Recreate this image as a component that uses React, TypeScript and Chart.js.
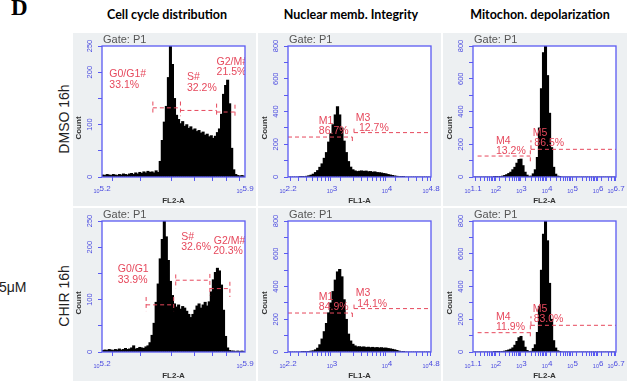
import React, { useEffect, useRef } from 'react';
import { Chart, registerables } from 'chart.js';
Chart.register(...registerables);

// ---------------- data ----------------
// histogram bins (log10 fluorescence), counts per bin
const CELL_BIN_START = 5.2;
const CELL_BIN_WIDTH = 0.01;
const dmsoCellCycle = [4, 3, 5, 4, 3, 5, 4, 3, 5, 4, 6, 5, 4, 6, 7, 5, 8, 6, 9, 7, 10, 8, 11, 9, 10, 8, 12, 9, 30, 70, 105, 135, 190, 252, 215, 150, 118, 110, 102, 106, 97, 100, 93, 96, 90, 92, 87, 89, 84, 86, 80, 82, 77, 79, 74, 78, 85, 92, 120, 158, 175, 185, 140, 55, 14, 5, 3, 2, 3, 2];
const chirCellCycle = [3, 4, 3, 5, 4, 3, 5, 4, 6, 4, 5, 7, 5, 6, 8, 12, 6, 7, 9, 8, 7, 10, 12, 18, 32, 55, 95, 130, 178, 215, 250, 220, 175, 135, 108, 92, 86, 90, 82, 87, 84, 78, 72, 66, 72, 80, 88, 92, 84, 90, 95, 88, 96, 115, 138, 152, 160, 155, 128, 80, 30, 8, 3, 2, 2, 1, 2, 1, 2, 1];

const NUC_BIN_START = 2.2;
const NUC_BIN_WIDTH = 0.04;
const dmsoNuclear = [0, 0, 0, 0, 0, 1, 2, 3, 5, 8, 12, 18, 28, 40, 60, 81, 115, 150, 214, 265, 320, 380, 430, 380, 300, 220, 150, 95, 61, 45, 38, 34, 36, 38, 35, 37, 33, 34, 30, 32, 28, 27, 25, 22, 20, 16, 13, 10, 7, 5, 3, 2, 1, 0, 0, 0, 0, 0, 0, 0, 0, 0, 0, 0, 0];
const chirNuclear = [0, 0, 0, 0, 0, 0, 1, 2, 3, 4, 6, 8, 14, 24, 45, 80, 125, 175, 240, 300, 370, 440, 490, 505, 460, 320, 200, 110, 68, 48, 38, 32, 33, 30, 32, 28, 30, 27, 29, 26, 28, 25, 27, 24, 25, 22, 20, 17, 14, 10, 6, 3, 1, 0, 0, 0, 0, 0, 0, 0, 0, 0, 0, 0, 0];

const MITO_BIN_START = 1.1;
const MITO_BIN_WIDTH = 0.08;
const dmsoMito = [0, 0, 0, 0, 0, 0, 0, 0, 0, 0, 1, 2, 3, 4, 6, 10, 15, 22, 30, 45, 60, 85, 108, 110, 70, 30, 12, 5, 6, 20, 45, 120, 300, 540, 760, 820, 620, 390, 180, 60, 18, 6, 2, 0, 0, 0, 0, 0, 0, 0, 0, 0, 0, 0, 0, 0, 0, 0, 0, 0, 0, 0, 0, 0, 0, 0, 0, 0, 0, 0];
const chirMito = [0, 0, 0, 0, 0, 0, 0, 0, 0, 0, 1, 1, 2, 3, 4, 6, 9, 13, 18, 26, 42, 65, 88, 96, 68, 30, 10, 4, 5, 22, 45, 120, 280, 500, 720, 810, 680, 420, 200, 70, 25, 8, 2, 0, 0, 0, 0, 0, 0, 0, 0, 0, 0, 0, 0, 0, 0, 0, 0, 0, 0, 0, 0, 0, 0, 0, 0, 0, 0, 0];

// axis ranges and tick labels
const CELL_X_RANGE = [5.2, 5.9];
const NUC_X_RANGE = [2.2, 4.8];
const MITO_X_RANGE = [1.1, 6.7];
const CELL_X_LABELS = [5.2, 5.9];
const NUC_X_LABELS = [2.2, 3, 4, 4.8];
const MITO_X_LABELS = [1.1, 2, 3, 4, 5, 6, 6.7];
const CELL_Y_LABELS = [0, 100, 200, 250];
const COUNT_Y_LABELS = [0, 200, 400, 600, 800];

// gate markers [x, y] segments
const dmsoCellGates = [
  [[5.449, 144], [5.449, 121]],
  [[5.449, 132], [5.584, 132]],
  [[5.584, 144], [5.584, 116]],
  [[5.584, 127], [5.761, 127]],
  [[5.761, 140], [5.761, 116]],
  [[5.761, 124], [5.851, 124]],
  [[5.851, 138], [5.851, 114]],
];
const chirCellGates = [
  [[5.416, 105], [5.416, 78]],
  [[5.416, 90], [5.551, 90]],
  [[5.551, 105], [5.551, 78]],
  [[5.561, 148], [5.561, 121]],
  [[5.561, 137], [5.728, 137]],
  [[5.728, 149], [5.728, 108]],
  [[5.728, 121], [5.826, 121]],
  [[5.826, 134], [5.826, 105]],
];
const dmsoNucGates = [
  [[2.2, 244], [3.37, 244]],
  [[3.37, 244], [3.37, 208]],
  [[3.4, 271], [3.4, 305]],
  [[3.4, 271], [4.8, 271]],
];
const chirNucGates = [
  [[2.2, 238], [3.37, 238]],
  [[3.37, 238], [3.37, 204]],
  [[3.4, 265], [3.4, 295]],
  [[3.4, 265], [4.8, 265]],
];
const dmsoMitoGates = [
  [[1.28, 128], [3.345, 128]],
  [[3.345, 163], [3.345, 92]],
  [[3.37, 169], [3.37, 224]],
  [[3.37, 169], [6.7, 169]],
];
const chirMitoGates = [
  [[1.28, 118], [3.345, 118]],
  [[3.345, 163], [3.345, 81]],
  [[3.37, 163], [3.37, 218]],
  [[3.37, 163], [6.7, 163]],
];

// gate labels [text, x, y(baseline)]
const dmsoCellLabels = [['G0/G1#', 5.236, 190.8], ['33.1%', 5.236, 170.5], ['S#', 5.616, 185.8], ['32.2%', 5.616, 164.1], ['G2/M#', 5.761, 214.4], ['21.5%', 5.761, 195.3]];
const chirCellLabels = [['G0/G1', 5.277, 152.7], ['33.9%', 5.277, 132.3], ['S#', 5.588, 214.4], ['32.6%', 5.588, 194], ['G2/M#', 5.747, 206.7], ['20.3%', 5.744, 187.7]];
const dmsoNucLabels = [['M1', 2.76, 325.7], ['86.7%', 2.76, 260.6], ['M3', 3.43, 342], ['12.7%', 3.49, 278.9]];
const chirNucLabels = [['M1', 2.76, 319.6], ['84.9%', 2.76, 254.5], ['M3', 3.43, 340], ['14.1%', 3.46, 274.8]];
const dmsoMitoLabels = [['M4', 2.0, 203.6], ['13.2%', 2.0, 138.4], ['M5', 3.437, 250.4], ['86.5%', 3.5, 187.3]];
const chirMitoLabels = [['M4', 2.0, 197.5], ['11.9%', 2.0, 132.3], ['M5', 3.437, 244.3], ['83.0%', 3.476, 181.2]];

const COLUMN_TITLES = ['Cell cycle distribution', 'Nuclear memb. Integrity', 'Mitochon. depolarization'];
const ROW_LABELS = ['DMSO 16h', 'CHIR 16h'];

// ---------------- styling ----------------
const BLUE = '#5a5af2';
const BLUE_TEXT = '#4a4ae0';
const RED = '#e6485c';
const GRAY = '#edf0f2';
const SANS = '"Liberation Sans", Arial, sans-serif';

function logTicks(min: number, max: number) {
  const out = [min];
  for (let d = Math.floor(min); d <= Math.ceil(max); d++) {
    for (let k = 1; k <= 9; k++) {
      const v = d + Math.log10(k);
      if (v > min + 1e-6 && v < max - 1e-6) out.push(v);
    }
  }
  out.push(max);
  return out;
}

type PanelCfg = {
  left: number; top: number; width: number; height: number;
  chartLeft: number; chartRight: number;
  xRange: number[]; yMax: number; yStep: number;
  binStart: number; binWidth: number; counts: number[];
  xLabels: number[]; yLabels: number[]; xTitle: string;
  gates: number[][][]; labels: (string | number)[][];
};

function makeDecor(cfg: PanelCfg) {
  return {
    id: 'panelDecor',
    beforeDraw(chart: any) {
      const { ctx, chartArea: a, width, height } = chart;
      ctx.save();
      ctx.fillStyle = GRAY;
      ctx.fillRect(0, 0, width, height);
      ctx.fillStyle = '#ffffff';
      ctx.fillRect(a.left, a.top, a.right - a.left, a.bottom - a.top);
      ctx.restore();
    },
    afterDatasetsDraw(chart: any) {
      const { ctx, chartArea: a, scales } = chart;
      ctx.save();
      ctx.beginPath();
      ctx.rect(a.left, a.top, a.right - a.left, a.bottom - a.top);
      ctx.clip();
      ctx.fillStyle = RED;
      ctx.font = `10.5px ${SANS}`;
      ctx.textAlign = 'left';
      ctx.textBaseline = 'alphabetic';
      for (const [t, x, y] of cfg.labels) {
        ctx.fillText(String(t), scales.x.getPixelForValue(x as number), scales.y.getPixelForValue(y as number));
      }
      ctx.restore();
    },
    afterDraw(chart: any) {
      const { ctx, chartArea: a, scales } = chart;
      ctx.save();
      // frame
      ctx.strokeStyle = BLUE;
      ctx.lineWidth = 1.3;
      ctx.strokeRect(a.left, a.top, a.right - a.left, a.bottom - a.top);
      // gate text
      ctx.fillStyle = '#555';
      ctx.font = `11px ${SANS}`;
      ctx.textAlign = 'left';
      ctx.textBaseline = 'alphabetic';
      ctx.fillText('Gate: P1', a.left + 1, a.top - 3);
      // y tick labels
      ctx.fillStyle = BLUE_TEXT;
      ctx.font = `7.5px ${SANS}`;
      ctx.textAlign = 'center';
      for (const v of cfg.yLabels) {
        const y = scales.y.getPixelForValue(v);
        ctx.save();
        ctx.translate(a.left - 10, y);
        ctx.rotate(-Math.PI / 2);
        ctx.fillText(String(v), 0, 0);
        ctx.restore();
      }
      // y title
      ctx.fillStyle = '#333';
      ctx.font = `bold 8px ${SANS}`;
      ctx.save();
      ctx.translate(a.left - 21, a.top + 82);
      ctx.rotate(-Math.PI / 2);
      ctx.fillText('Count', 0, 0);
      ctx.restore();
      // x tick labels: small "10" + exponent
      ctx.fillStyle = BLUE_TEXT;
      ctx.textAlign = 'left';
      for (const v of cfg.xLabels) {
        const x = scales.x.getPixelForValue(v);
        const e = String(v);
        ctx.font = `5.5px ${SANS}`;
        const w10 = ctx.measureText('10').width;
        ctx.font = `8px ${SANS}`;
        const we = ctx.measureText(e).width;
        const x0 = x - (w10 + we) / 2;
        ctx.font = `5.5px ${SANS}`;
        ctx.fillText('10', x0, a.bottom + 16);
        ctx.font = `8px ${SANS}`;
        ctx.fillText(e, x0 + w10, a.bottom + 14);
      }
      // x title
      ctx.fillStyle = '#333';
      ctx.font = `bold 8px ${SANS}`;
      ctx.textAlign = 'center';
      ctx.fillText(cfg.xTitle, (a.left + a.right) / 2, a.bottom + 26);
      ctx.restore();
    },
  };
}

function Panel({ cfg }: { cfg: PanelCfg }) {
  const ref = useRef<HTMLCanvasElement | null>(null);
  useEffect(() => {
    if (!ref.current) return;
    const ticks = logTicks(cfg.xRange[0], cfg.xRange[1]);
    const bars = cfg.counts.map((c, i) => ({ x: cfg.binStart + cfg.binWidth * (i + 0.5), y: c }));
    // bar thickness = one bin on the x scale (plus a hair of overlap so bins touch)
    const binPx = ((cfg.chartRight - cfg.chartLeft) * cfg.binWidth) / (cfg.xRange[1] - cfg.xRange[0]) + 0.35;
    const gateSets = cfg.gates.map((seg) => ({
      type: 'line' as const,
      data: seg.map(([x, y]) => ({ x, y })),
      borderColor: RED,
      borderWidth: 1,
      borderDash: [4, 3],
      pointRadius: 0,
      fill: false,
      tension: 0,
      order: 1,
    }));
    const chart = new Chart(ref.current, {
      type: 'bar',
      data: {
        datasets: [
          {
            type: 'bar',
            data: bars as any,
            backgroundColor: '#000000',
            borderWidth: 0,
            barThickness: binPx,
            order: 2,
          } as any,
          ...(gateSets as any[]),
        ],
      },
      options: {
        animation: false,
        responsive: false,
        devicePixelRatio: 1,
        events: [],
        layout: { padding: { left: 0, top: 13, right: cfg.width - cfg.chartRight, bottom: 0 } },
        plugins: { legend: { display: false }, tooltip: { enabled: false } },
        scales: {
          x: {
            type: 'linear',
            min: cfg.xRange[0],
            max: cfg.xRange[1],
            offset: false,
            afterBuildTicks: (s: any) => {
              s.ticks = ticks.map((v) => ({ value: v }));
            },
            afterFit: (s: any) => {
              s.height = 29;
            },
            ticks: { display: false },
            grid: { drawOnChartArea: false, drawTicks: true, tickLength: 4, tickColor: BLUE, color: BLUE, lineWidth: 1 },
            border: { display: false },
          },
          y: {
            type: 'linear',
            min: 0,
            max: cfg.yMax,
            ticks: { display: false, stepSize: cfg.yStep },
            afterFit: (s: any) => {
              s.width = cfg.chartLeft;
            },
            grid: { drawOnChartArea: false, drawTicks: true, tickLength: 4, tickColor: BLUE, color: BLUE, lineWidth: 1 },
            border: { display: false },
          },
        },
      } as any,
      plugins: [makeDecor(cfg)],
    });
    return () => chart.destroy();
  }, []);
  return (
    <canvas
      ref={ref}
      width={cfg.width}
      height={cfg.height}
      style={{ position: 'absolute', left: cfg.left, top: cfg.top, width: cfg.width, height: cfg.height }}
    />
  );
}

const COL_LEFT = [73, 258, 443];
const ROW_TOP = [33, 208];

function cellCfg(row: number, counts: number[], gates: number[][][], labels: (string | number)[][]): PanelCfg {
  return {
    left: COL_LEFT[0], top: ROW_TOP[row], width: 183, height: 173, chartLeft: 29, chartRight: 172,
    xRange: CELL_X_RANGE, yMax: 250, yStep: 50, binStart: CELL_BIN_START, binWidth: CELL_BIN_WIDTH, counts,
    xLabels: CELL_X_LABELS, yLabels: CELL_Y_LABELS, xTitle: 'FL2-A', gates, labels,
  };
}
function nucCfg(row: number, counts: number[], gates: number[][][], labels: (string | number)[][]): PanelCfg {
  return {
    left: COL_LEFT[1], top: ROW_TOP[row], width: 183, height: 173, chartLeft: 30, chartRight: 173,
    xRange: NUC_X_RANGE, yMax: 800, yStep: 100, binStart: NUC_BIN_START, binWidth: NUC_BIN_WIDTH, counts,
    xLabels: NUC_X_LABELS, yLabels: COUNT_Y_LABELS, xTitle: 'FL1-A', gates, labels,
  };
}
function mitoCfg(row: number, counts: number[], gates: number[][][], labels: (string | number)[][]): PanelCfg {
  return {
    left: COL_LEFT[2], top: ROW_TOP[row], width: 184, height: 173, chartLeft: 30, chartRight: 173,
    xRange: MITO_X_RANGE, yMax: 800, yStep: 100, binStart: MITO_BIN_START, binWidth: MITO_BIN_WIDTH, counts,
    xLabels: MITO_X_LABELS, yLabels: COUNT_Y_LABELS, xTitle: 'FL2-A', gates, labels,
  };
}

const PANELS: PanelCfg[] = [
  cellCfg(0, dmsoCellCycle, dmsoCellGates, dmsoCellLabels),
  nucCfg(0, dmsoNuclear, dmsoNucGates, dmsoNucLabels),
  mitoCfg(0, dmsoMito, dmsoMitoGates, dmsoMitoLabels),
  cellCfg(1, chirCellCycle, chirCellGates, chirCellLabels),
  nucCfg(1, chirNuclear, chirNucGates, chirNucLabels),
  mitoCfg(1, chirMito, chirMitoGates, chirMitoLabels),
];

const TITLE_CENTERS = [167, 351, 540];
const ROW_CENTERS = [119, 296];

export default function App() {
  return (
    <div style={{ position: 'fixed', left: 0, top: 0, width: 629, height: 381, background: '#fff', overflow: 'hidden' }}>
      <div style={{ position: 'absolute', left: 11, top: -4, fontFamily: '"Liberation Serif", "Times New Roman", serif', fontWeight: 'bold', fontSize: 23, lineHeight: '23px', color: '#000' }}>D</div>
      {COLUMN_TITLES.map((t, i) => (
        <div key={t} style={{ position: 'absolute', left: TITLE_CENTERS[i] - 100, width: 200, top: 8, textAlign: 'center', fontFamily: 'Lato, "Open Sans", sans-serif', fontWeight: 'bold', fontSize: 12.5, lineHeight: '14px', color: '#000', whiteSpace: 'nowrap' }}>{t}</div>
      ))}
      {ROW_LABELS.map((t, i) => (
        <div key={t} style={{ position: 'absolute', left: 64, top: ROW_CENTERS[i], transform: 'translate(-50%, -50%) rotate(-90deg)', fontFamily: SANS, fontSize: 14, lineHeight: '14px', color: '#222', whiteSpace: 'nowrap' }}>{t}</div>
      ))}
      <div style={{ position: 'absolute', left: -1, top: 280, fontFamily: SANS, fontSize: 14, lineHeight: '14px', color: '#222', whiteSpace: 'nowrap' }}>5μM</div>
      {PANELS.map((p, i) => (
        <Panel key={i} cfg={p} />
      ))}
    </div>
  );
}
